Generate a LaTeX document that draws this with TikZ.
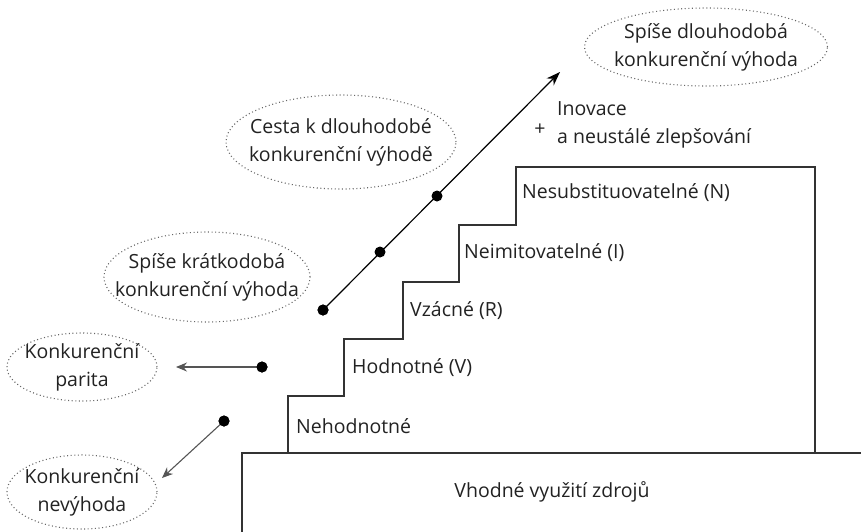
\documentclass[tikz,border=0pt]{standalone}
\usepackage{fontspec}
\setmainfont{Open Sans}
\usetikzlibrary{shapes.geometric,arrows.meta}
\definecolor{ink}{HTML}{222222}
\definecolor{edge}{HTML}{333333}
\definecolor{soft}{HTML}{555555}
\definecolor{dots}{HTML}{666666}
\begin{document}
\begin{tikzpicture}[x=1pt,y=-1pt,
  txt/.style={font=\fontsize{19.5}{28}\selectfont, text=ink, inner sep=0pt},
  bubble/.style={ellipse, draw=dots, dash pattern=on 1pt off 2.6pt, line width=1.1pt,
    inner sep=0pt},
  bubbletext/.style={txt, align=center},
  stepline/.style={draw=edge, line width=1.2pt},
  pin/.style={circle, fill=black, inner sep=0pt, minimum size=11pt},
  grayarrow/.style={draw=soft, line width=1.1pt, -{Stealth[length=11pt,width=9pt]}},
  mainarrow/.style={draw=black, line width=1.2pt, -{Stealth[length=14pt,width=10pt]}}]
  \useasboundingbox (0,0) rectangle (861,531);
  \clip (0,0) rectangle (861,531);

  % base block and the staircase of resource attributes
  \draw[stepline] (242,540) -- (242,453) -- (870,453);
  \draw[stepline] (288,453) -- (288,396) -- (344,396) -- (344,339) -- (403,339)
    -- (403,282) -- (459,282) -- (459,225) -- (516,225) -- (516,167)
    -- (815,167) -- (815,453);

  \node[txt] (base) at (552,492) {Vhodné využití zdrojů};
  \node[txt, anchor=west] (l1) at (296,426) {Nehodnotné};
  \node[txt, anchor=west] (l2) at (352,368) {Hodnotné (V)};
  \node[txt, anchor=west] (l3) at (410,311) {Vzácné (R)};
  \node[txt, anchor=west] (l4) at (464,253) {Neimitovatelné (I)};
  \node[txt, anchor=west] (l5) at (522,193) {Nesubstituovatelné (N)};

  % outcome bubbles: dotted ellipse outlines with their captions
  \node[bubble, minimum width=243pt, minimum height=78pt] (sustained) at (706,47) {};
  \node[bubbletext] (sustainedtext) at (sustained.center) {Spíše dlouhodobá\\konkurenční výhoda};
  \node[bubble, minimum width=230pt, minimum height=94pt] (path) at (341,142) {};
  \node[bubbletext] (pathtext) at (path.center) {Cesta k dlouhodobé\\konkurenční výhodě};
  \node[bubble, minimum width=206pt, minimum height=90pt] (temp) at (207,277) {};
  \node[bubbletext] (temptext) at (temp.center) {Spíše krátkodobá\\konkurenční výhoda};
  \node[bubble, minimum width=150pt, minimum height=68pt] (parity) at (82,367) {};
  \node[bubbletext] (paritytext) at (parity.center) {Konkurenční\\parita};
  \node[bubble, minimum width=150pt, minimum height=74pt] (disadv) at (82,492) {};
  \node[bubbletext] (disadvtext) at (disadv.center) {Konkurenční\\nevýhoda};

  % innovation note
  \node[txt, anchor=west, align=left] (innov) at (557,125)
    {Inovace\\a neustálé zlepšování};
  \node[txt] (plus) at (540,130) {+};

  % progression line with markers
  \coordinate (tipA) at (560,72);
  \coordinate (tipB) at (176,367);
  \coordinate (tipC) at (162,478);
  \node[pin] (d1) at (323,310) {};
  \node[pin] (d2) at (380,252) {};
  \node[pin] (d3) at (437,196) {};
  \node[pin] (dp) at (262,367) {};
  \node[pin] (dn) at (224,421) {};
  \draw[mainarrow] (d1.center) -- (tipA);
  \draw[grayarrow] (dp.center) -- (tipB);
  \draw[grayarrow] (dn.center) -- (tipC);
  \node[pin] at (d1) {};
  \node[pin] at (dp) {};
  \node[pin] at (dn) {};
\end{tikzpicture}
\end{document}
